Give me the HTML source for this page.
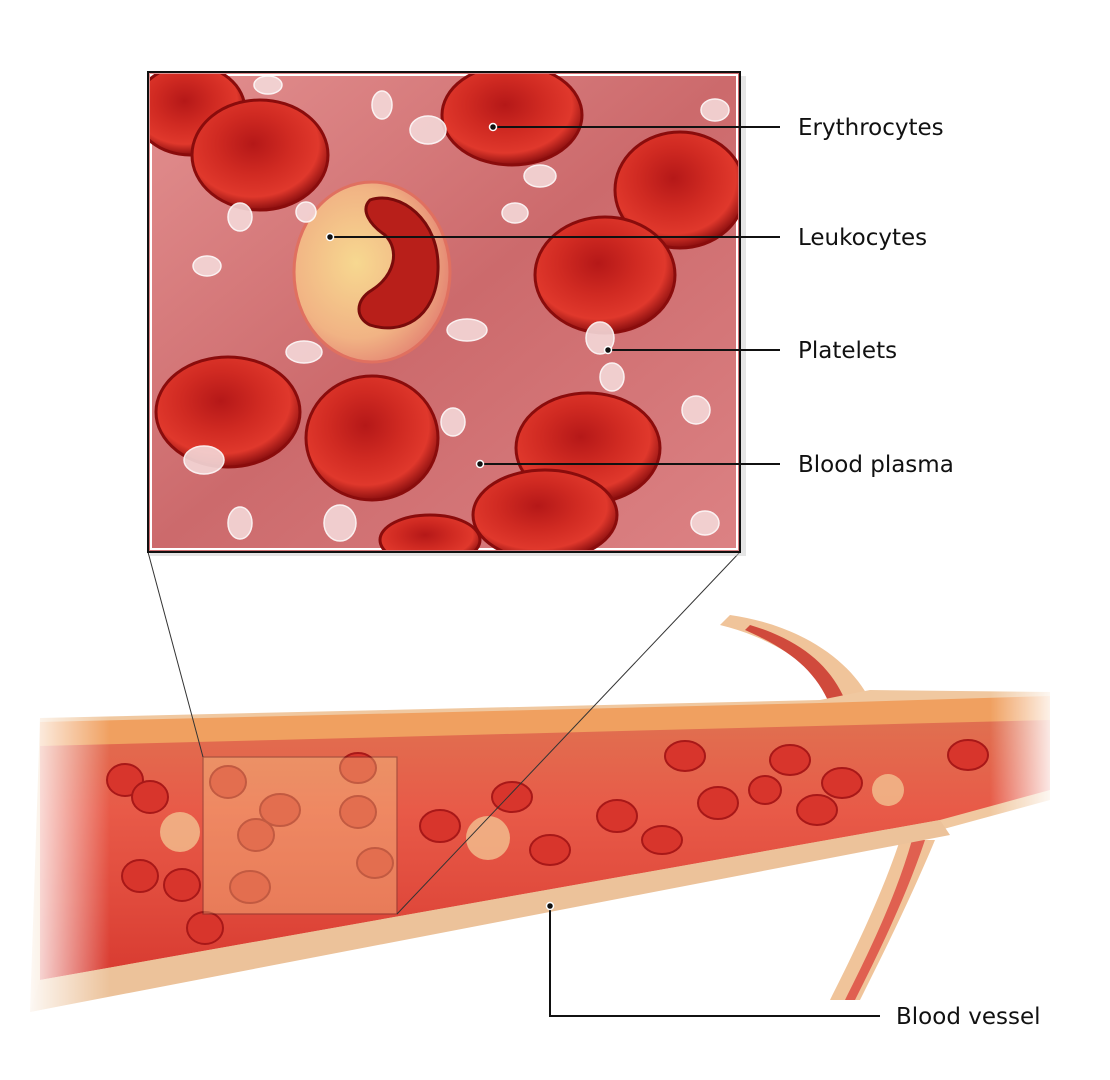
<!DOCTYPE html>
<html><head><meta charset="utf-8"><style>
html,body{margin:0;padding:0;background:#fff;}
svg{display:block}
text{font-family:"DejaVu Sans","Liberation Sans",sans-serif;font-size:23px;fill:#111}
</style></head><body>
<svg width="1110" height="1080" viewBox="0 0 1110 1080" xmlns="http://www.w3.org/2000/svg">
<defs>
<linearGradient id="pl" x1="0" y1="0" x2="1" y2="1">
<stop offset="0" stop-color="#e39090"/><stop offset="0.5" stop-color="#cc6a6c"/><stop offset="1" stop-color="#dc8284"/></linearGradient>
<radialGradient id="rbc" cx="0.45" cy="0.4" r="0.6">
<stop offset="0" stop-color="#b51818"/><stop offset="0.45" stop-color="#d02a22"/><stop offset="0.8" stop-color="#e0382c"/><stop offset="1" stop-color="#8e1010"/></radialGradient>
<radialGradient id="wbc" cx="0.4" cy="0.45" r="0.6">
<stop offset="0" stop-color="#f7d890"/><stop offset="0.7" stop-color="#f1b384"/><stop offset="1" stop-color="#e58874"/></radialGradient>
<linearGradient id="ves" x1="0" y1="0" x2="0" y2="1">
<stop offset="0" stop-color="#e07050"/><stop offset="0.35" stop-color="#e85a48"/><stop offset="0.7" stop-color="#e04a3c"/><stop offset="1" stop-color="#d83a30"/></linearGradient>
<linearGradient id="fadeL" x1="0" y1="0" x2="1" y2="0">
<stop offset="0" stop-color="#fff" stop-opacity="1"/><stop offset="1" stop-color="#fff" stop-opacity="0"/></linearGradient>
<linearGradient id="fadeR" x1="0" y1="0" x2="1" y2="0">
<stop offset="0" stop-color="#fff" stop-opacity="0"/><stop offset="1" stop-color="#fff" stop-opacity="1"/></linearGradient>
<clipPath id="ic"><rect x="150" y="74" width="588" height="476"/></clipPath>
</defs>

<!-- branches -->
<path d="M720,625 C780,640 820,670 840,710 L870,700 C850,660 800,625 730,615 Z" fill="#f0c49a"/>
<path d="M745,630 C790,650 815,670 830,705 L845,700 C830,665 800,640 750,625 Z" fill="#d04a3c"/>
<path d="M900,840 C880,900 850,960 830,1000 L860,1000 C880,960 910,900 935,840 Z" fill="#f0c49a"/>
<path d="M912,840 C895,900 865,960 845,1000 L855,1000 C875,960 905,900 925,840 Z" fill="#e06050"/>

<!-- vessel outer -->
<polygon points="40,718 820,700 870,690 1050,692 1050,800 940,830 30,1012" fill="#f0c8a0"/>
<polygon points="40,722 820,703 1050,696 1050,722 40,748" fill="#f0a060"/>
<polygon points="40,746 1050,720 1050,790 940,820 40,980" fill="url(#ves)"/>
<polygon points="40,980 940,820 950,835 30,1012" fill="#ecc29a"/>
<rect x="20" y="680" width="90" height="350" fill="url(#fadeL)"/>
<rect x="990" y="680" width="70" height="160" fill="url(#fadeR)"/>
<rect x="1050" y="680" width="60" height="160" fill="#fff"/>

<!-- vessel cells -->
<g fill="#d8352c" stroke="#a81818" stroke-width="2">
<ellipse cx="125" cy="780" rx="18" ry="16"/><ellipse cx="150" cy="797" rx="18" ry="16"/>
<ellipse cx="140" cy="876" rx="18" ry="16"/><ellipse cx="182" cy="885" rx="18" ry="16"/>
<ellipse cx="205" cy="928" rx="18" ry="16"/><ellipse cx="228" cy="782" rx="18" ry="16"/>
<ellipse cx="280" cy="810" rx="20" ry="16"/><ellipse cx="256" cy="835" rx="18" ry="16"/>
<ellipse cx="358" cy="768" rx="18" ry="15"/><ellipse cx="358" cy="812" rx="18" ry="16"/>
<ellipse cx="375" cy="863" rx="18" ry="15"/><ellipse cx="250" cy="887" rx="20" ry="16"/>
<ellipse cx="440" cy="826" rx="20" ry="16"/><ellipse cx="512" cy="797" rx="20" ry="15"/>
<ellipse cx="550" cy="850" rx="20" ry="15"/><ellipse cx="617" cy="816" rx="20" ry="16"/>
<ellipse cx="662" cy="840" rx="20" ry="14"/><ellipse cx="685" cy="756" rx="20" ry="15"/>
<ellipse cx="718" cy="803" rx="20" ry="16"/><ellipse cx="765" cy="790" rx="16" ry="14"/>
<ellipse cx="790" cy="760" rx="20" ry="15"/><ellipse cx="817" cy="810" rx="20" ry="15"/>
<ellipse cx="842" cy="783" rx="20" ry="15"/><ellipse cx="968" cy="755" rx="20" ry="15"/>
</g>
<g fill="#f3c090" opacity="0.8"><circle cx="180" cy="832" r="20"/><circle cx="488" cy="838" r="22"/><circle cx="888" cy="790" r="16"/></g>
<rect x="203" y="757" width="194" height="157" fill="#fff2a0" opacity="0.3" stroke="#222" stroke-width="1.2"/>
<line x1="148" y1="552" x2="203" y2="757" stroke="#333" stroke-width="1"/>
<line x1="740" y1="552" x2="397" y2="914" stroke="#333" stroke-width="1"/>

<!-- inset -->
<rect x="150" y="76" width="596" height="480" fill="#ccc" opacity="0.5"/>
<rect x="148" y="72" width="592" height="480" fill="url(#pl)" stroke="#111" stroke-width="2"/>
<rect x="151" y="75" width="586" height="474" fill="none" stroke="#fff" stroke-width="2"/>
<g clip-path="url(#ic)">
<g stroke="#8a0c0c" stroke-width="3" fill="url(#rbc)">
<ellipse cx="190" cy="110" rx="55" ry="45"/>
<ellipse cx="260" cy="155" rx="68" ry="55"/>
<ellipse cx="512" cy="115" rx="70" ry="50"/>
<ellipse cx="680" cy="190" rx="65" ry="58"/>
<ellipse cx="605" cy="275" rx="70" ry="58"/>
<ellipse cx="228" cy="412" rx="72" ry="55"/>
<ellipse cx="372" cy="438" rx="66" ry="62"/>
<ellipse cx="588" cy="448" rx="72" ry="55"/>
<ellipse cx="545" cy="515" rx="72" ry="45"/>
<ellipse cx="430" cy="540" rx="50" ry="25"/>
</g>
<ellipse cx="372" cy="272" rx="78" ry="90" fill="url(#wbc)" stroke="#e07060" stroke-width="3"/>
<path d="M370,200 C400,190 440,220 438,270 C436,320 400,335 370,325 C355,318 355,300 372,290 C395,275 400,250 385,235 C370,225 360,210 370,200 Z" fill="#b81f1a" stroke="#7a0b0b" stroke-width="3"/>
<g fill="#f4d8d8" stroke="#fff" stroke-width="1.5" opacity="0.9">
<ellipse cx="268" cy="85" rx="14" ry="9"/><ellipse cx="382" cy="105" rx="10" ry="14"/>
<ellipse cx="428" cy="130" rx="18" ry="14"/><ellipse cx="715" cy="110" rx="14" ry="11"/>
<ellipse cx="540" cy="176" rx="16" ry="11"/><ellipse cx="515" cy="213" rx="13" ry="10"/>
<ellipse cx="240" cy="217" rx="12" ry="14"/><ellipse cx="306" cy="212" rx="10" ry="10"/>
<ellipse cx="207" cy="266" rx="14" ry="10"/><ellipse cx="467" cy="330" rx="20" ry="11"/>
<ellipse cx="600" cy="338" rx="14" ry="16"/><ellipse cx="304" cy="352" rx="18" ry="11"/>
<ellipse cx="612" cy="377" rx="12" ry="14"/><ellipse cx="696" cy="410" rx="14" ry="14"/>
<ellipse cx="453" cy="422" rx="12" ry="14"/><ellipse cx="204" cy="460" rx="20" ry="14"/>
<ellipse cx="240" cy="523" rx="12" ry="16"/><ellipse cx="340" cy="523" rx="16" ry="18"/>
<ellipse cx="705" cy="523" rx="14" ry="12"/>
</g>
</g>

<!-- leader lines -->
<g stroke="#111" stroke-width="2" fill="#111">
<line x1="493" y1="127" x2="780" y2="127"/><circle cx="493" cy="127" r="3.5" stroke="#fff" stroke-width="1.5"/>
<line x1="330" y1="237" x2="780" y2="237"/><circle cx="330" cy="237" r="3.5" stroke="#fff" stroke-width="1.5"/>
<line x1="608" y1="350" x2="780" y2="350"/><circle cx="608" cy="350" r="3.5" stroke="#fff" stroke-width="1.5"/>
<line x1="480" y1="464" x2="780" y2="464"/><circle cx="480" cy="464" r="3.5" stroke="#fff" stroke-width="1.5"/>
<polyline points="550,906 550,1016 880,1016" fill="none"/><circle cx="550" cy="906" r="3.5" stroke="#fff" stroke-width="1.5"/>
</g>
<text x="798" y="135">Erythrocytes</text>
<text x="798" y="245">Leukocytes</text>
<text x="798" y="358">Platelets</text>
<text x="798" y="472">Blood plasma</text>
<text x="896" y="1024">Blood vessel</text>
</svg>
</body></html>
